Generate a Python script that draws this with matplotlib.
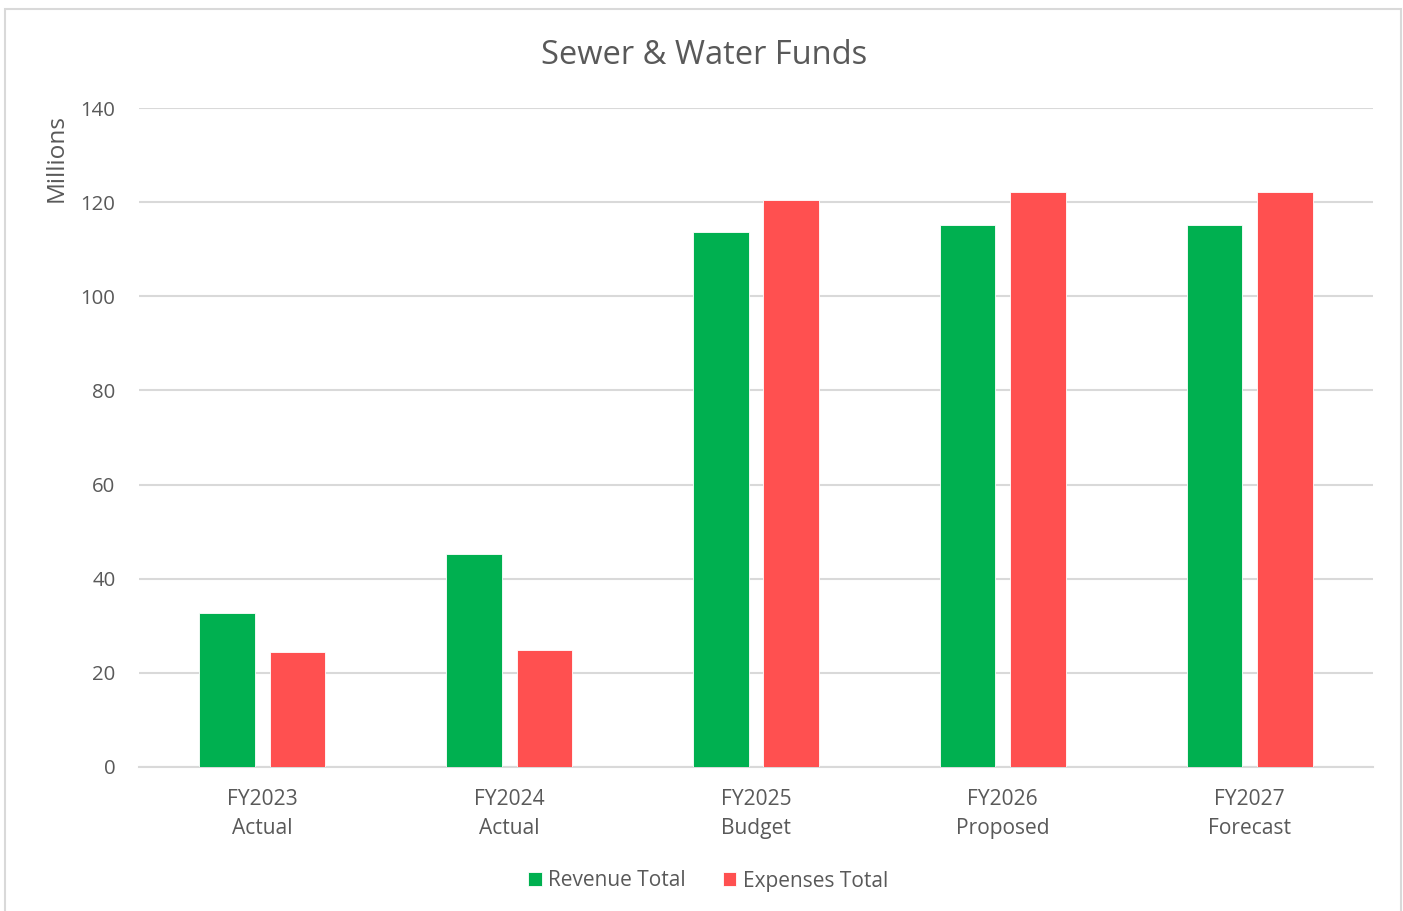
import matplotlib
matplotlib.use("Agg")
import matplotlib.pyplot as plt
import numpy as np
from matplotlib.patches import Rectangle

categories = ["FY2023\nActual", "FY2024\nActual", "FY2025\nBudget", "FY2026\nProposed", "FY2027\nForecast"]
revenue = [32.7, 45.3, 113.6, 115.1, 115.1]
expenses = [24.5, 24.8, 120.4, 122.2, 122.2]
yticks = [0, 20, 40, 60, 80, 100, 120, 140]

plt.rcParams['font.family'] = ['Open Sans', 'DejaVu Sans']
txt = '#595959'
green = '#00B050'
red = '#FF5050'

fig = plt.figure(figsize=(14.03, 9.11), dpi=100)
fig.patches.append(Rectangle((5/1403, -0.02), 1396/1403, 1.02 - 9/911, transform=fig.transFigure,
                             fill=False, edgecolor='#D9D9D9', linewidth=1.5))
ax = fig.add_axes([139/1403, 1 - 767/911, 1234/1403, 659/911])

x = np.arange(len(categories))
w = 0.225
off = 0.1425
ax.bar(x - off, revenue, w, color=green, edgecolor='white', linewidth=0.6, label='Revenue Total', zorder=3)
ax.bar(x + off, expenses, w, color=red, edgecolor='white', linewidth=0.6, label='Expenses Total', zorder=3)

ax.set_xlim(-0.5, len(categories) - 0.5)
ax.set_ylim(0, 140)
ax.set_yticks(yticks)
ax.set_xticks(x)
ax.set_xticklabels(categories, fontsize=15.1, color=txt, linespacing=1.47)
ax.tick_params(axis='y', labelsize=14.7, colors=txt, length=0, pad=17)
ax.tick_params(axis='x', length=0, pad=16)
for s in ['top', 'right', 'left']:
    ax.spines[s].set_visible(False)
ax.spines['bottom'].set_color('#D9D9D9')
ax.spines['bottom'].set_linewidth(1.5)
ax.grid(axis='y', color='#D9D9D9', linewidth=1.5, zorder=0)
ax.set_axisbelow(True)

fig.text(69/1403, 1 - 157.5/911, 'Millions', rotation=90, ha='right', va='center', fontsize=17.6, color=txt)
fig.text(704/1403, 1 - 64/911, 'Sewer & Water Funds', ha='center', va='baseline', fontsize=23.5, color=txt)

leg = fig.legend(loc='center', bbox_to_anchor=(708/1403, 1 - 881/911), ncol=2, frameon=False,
                 fontsize=15.0, handlelength=0.65, handleheight=0.65, handletextpad=0.3, columnspacing=1.8)
for t in leg.get_texts():
    t.set_color(txt)

fig.savefig('out.png', dpi=100)
